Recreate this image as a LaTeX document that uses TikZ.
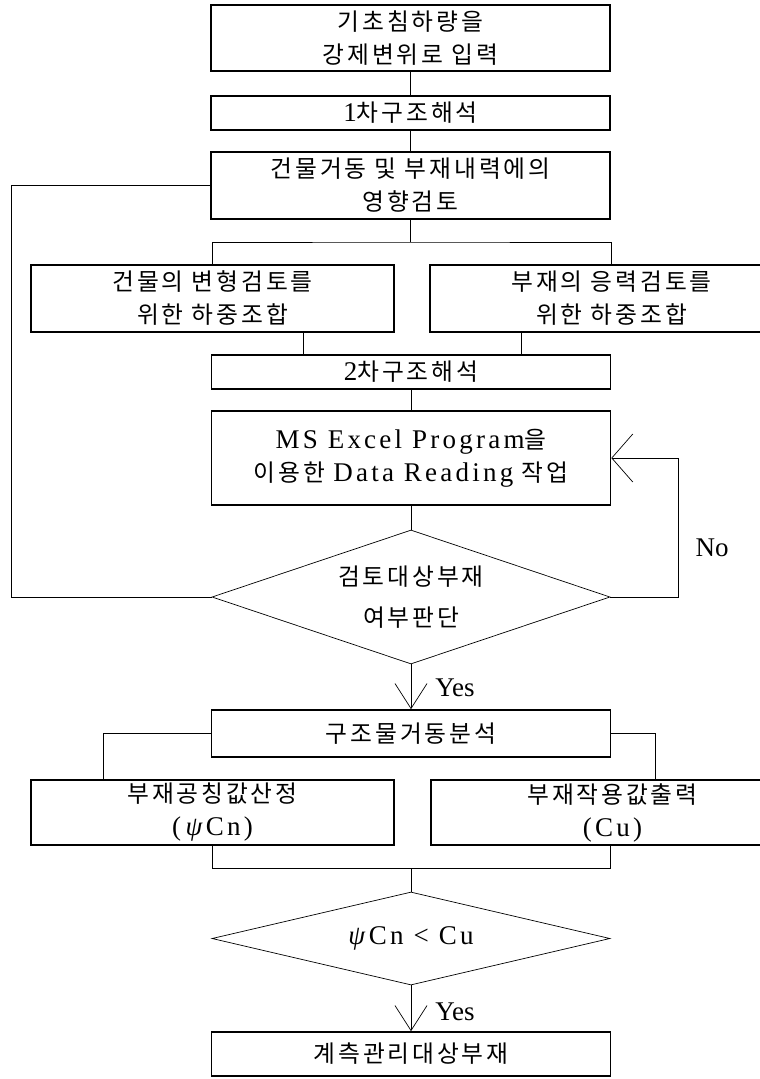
\documentclass[tikz,border=0pt]{standalone}
\usepackage{fontspec}
\setmainfont{Liberation Serif}
\newfontfamily\hangul[Scale=0.88,LetterSpace=12]{Noto Sans CJK KR}
\newfontfamily\romanls[LetterSpace=12]{Liberation Serif}
\newcommand{\rom}[1]{{\romanls #1}}
\usetikzlibrary{shapes.geometric}
\usetikzlibrary{arrows.meta}

\begin{document}
\begin{tikzpicture}
  [x=1pt,y=-1pt,
   every node/.style={inner sep=0pt,
                      align=center,
                      font=\fontsize{27}{33}\selectfont\hangul},
   stepbox/.style={rectangle,
                   draw=black,
                   line width=1.6pt,
                   minimum width=399pt,
                   minimum height=34pt},
   halfbox/.style={stepbox,minimum width=363pt},
   decision/.style={diamond,
                    draw=black,
                    line width=0.7pt,
                    aspect=3,
                    minimum width=398pt},
   label/.style={font=\fontsize{27}{33}\selectfont\rmfamily},
   link/.style={draw,line width=0.7pt},
   yesarrow/.style={-{Straight Barb[length=25pt,width=32pt]}},
   noarrow/.style={-{Straight Barb[length=21pt,width=48pt]}}]
  \useasboundingbox (0,0) rectangle (760,1079);
  \clip (0,0) rectangle (760,1079);

  \node[stepbox,minimum height=66pt] (settle) at (410.5,38) {기초침하량을\\강제변위로 입력};
  \node[stepbox] (first) at (410.5,113) {\rom{1}차구조해석};
  \node[stepbox,minimum height=67pt] (review) at (410.5,185.5) {건물거동 및 부재내력에의\\영향검토};
  \node[halfbox,minimum height=67pt] (deform) at (212.5,298.5) {건물의 변형검토를\\위한 하중조합};
  \node[halfbox,minimum height=67pt] (stress) at (611.5,298.5) {부재의 응력검토를\\위한 하중조합};
  \node[stepbox] (second) at (411,372) {\rom{2}차구조해석};
  \node[stepbox,minimum height=94pt] (excel) at (411,458) {\rom{MS Excel Program}을\\이용한 \rom{Data Reading} 작업};
  \node[decision,minimum height=134pt] (target) at (411,597) {검토대상부재\\[8pt]여부판단};
  \node[stepbox,minimum height=47pt] (behave) at (411,733.5) {구조물거동분석};
  \node[halfbox,minimum height=65pt] (nominal) at (212.5,812.5) {부재공칭값산정\\\rom{(\,\textit{ψ}Cn)}};
  \node[halfbox,minimum height=65pt] (factored) at (612.5,812.5) {부재작용값출력\\\rom{(Cu)}};
  \node[decision,minimum height=93pt] (compare) at (411,938.5) {\rom{\textit{ψ}Cn < Cu}};
  \node[stepbox,minimum height=44pt] (monitor) at (411,1054) {계측관리대상부재};

  % bus lines and junctions
  \coordinate (lbus) at (11,0);
  \coordinate (rbus) at (678,0);
  \coordinate (split) at (410.5,242);
  \coordinate (merge) at (411,868);

  \draw[link] (settle) -- (first);
  \draw[link] (first) -- (review);
  \draw[link] (review.west) -| (lbus |- target.west) -- (target.west);
  \draw[link] (review) -- (split);
  \draw[link] (deform.north) |- (split) -| (stress.north);
  \draw[link] ([xshift=90.5pt]deform.south) -- ([xshift=90.5pt]deform.south |- second.north);
  \draw[link] ([xshift=-90.5pt]stress.south) -- ([xshift=-90.5pt]stress.south |- second.north);
  \draw[link] (second) -- (excel);
  \draw[link] (excel) -- (target);
  \draw[link,noarrow] (target.east) -| (rbus |- excel.east) -- (excel.east);
  \node[label] (nolbl) at (712,548) {No};
  \draw[link,yesarrow] (target) -- (behave) node[label,pos=0.52,right=24pt] (yes1) {Yes};
  \draw[link] (behave.west) -| ([xshift=-109.5pt]nominal.north);
  \draw[link] (behave.east) -| ([xshift=42.5pt]factored.north);
  \draw[link] (nominal.south) |- (merge) -| ([xshift=-2.5pt]factored.south);
  \draw[link] (merge) -- (compare);
  \draw[link,yesarrow] (compare) -- (monitor) node[label,pos=0.57,right=24pt] (yes2) {Yes};
\end{tikzpicture}
\end{document}
